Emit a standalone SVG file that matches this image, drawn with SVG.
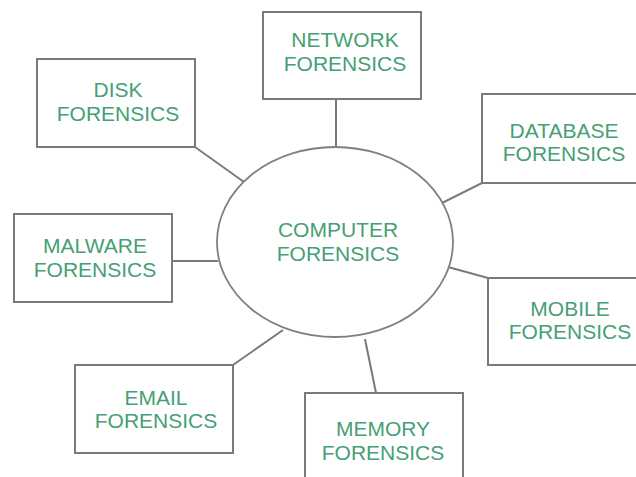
<svg xmlns="http://www.w3.org/2000/svg" width="636" height="477" viewBox="0 0 636 477">
<style>
.box{fill:#ffffff;stroke:#7a7a7a;stroke-width:2}
.hub{fill:#ffffff;stroke:#808080;stroke-width:1.8}
.conn line{stroke:#7a7a7a;stroke-width:2}
text{font-family:"Liberation Sans",Arial,sans-serif;font-size:21px;fill:#46a075;text-anchor:middle}
</style>
<rect width="636" height="477" fill="#ffffff"/>
<g id="connectors" class="conn">
<line x1="336" y1="99" x2="336" y2="148"/>
<line x1="195" y1="147" x2="244" y2="182"/>
<line x1="482" y1="183" x2="442" y2="203"/>
<line x1="172" y1="261" x2="218" y2="261"/>
<line x1="448" y1="267" x2="488" y2="278"/>
<line x1="233" y1="365" x2="283" y2="330"/>
<line x1="365" y1="339" x2="376" y2="393"/>
</g>
<g id="computer">
<ellipse class="hub" cx="335" cy="242" rx="118" ry="95"/>
<text x="338" y="237">COMPUTER</text>
<text x="338" y="261">FORENSICS</text>
</g>
<g id="network">
<rect class="box" x="263" y="12" width="158" height="87"/>
<text x="345" y="47">NETWORK</text>
<text x="345" y="71">FORENSICS</text>
</g>
<g id="disk">
<rect class="box" x="37" y="59" width="158" height="88"/>
<text x="118" y="97">DISK</text>
<text x="118" y="121">FORENSICS</text>
</g>
<g id="database">
<rect class="box" x="482" y="94" width="160" height="89"/>
<text x="564" y="138">DATABASE</text>
<text x="564" y="161">FORENSICS</text>
</g>
<g id="malware">
<rect class="box" x="14" y="214" width="158" height="88"/>
<text x="95" y="253">MALWARE</text>
<text x="95" y="277">FORENSICS</text>
</g>
<g id="mobile">
<rect class="box" x="488" y="278" width="160" height="87"/>
<text x="570" y="316">MOBILE</text>
<text x="570" y="339">FORENSICS</text>
</g>
<g id="email">
<rect class="box" x="75" y="365" width="158" height="88"/>
<text x="156" y="405">EMAIL</text>
<text x="156" y="428">FORENSICS</text>
</g>
<g id="memory">
<rect class="box" x="305" y="393" width="158" height="95"/>
<text x="383" y="436">MEMORY</text>
<text x="383" y="460">FORENSICS</text>
</g>
</svg>
